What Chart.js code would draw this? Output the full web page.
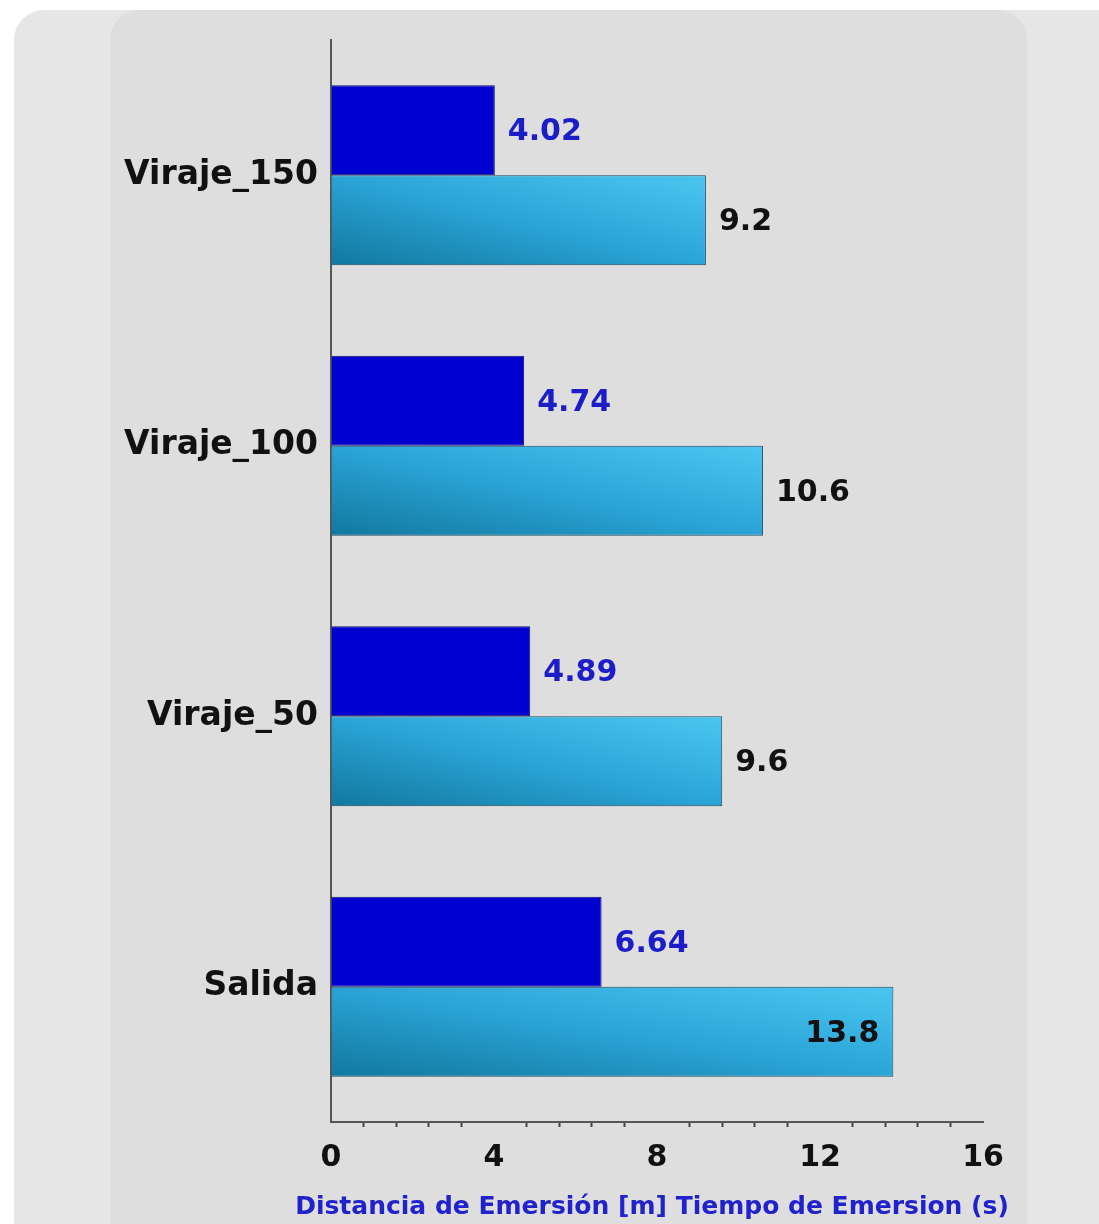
<!DOCTYPE html>
<html>
<head>
<meta charset="utf-8">
<script src="https://cdn.jsdelivr.net/npm/chart.js@4.4.1/dist/chart.umd.min.js"></script>
<style>
  html, body { margin: 0; padding: 0; background: #ffffff; }
  body { width: 1099px; height: 1224px; position: relative; overflow: hidden; }
  #outer { position: absolute; left: 14px; top: 10px; width: 1120px; height: 1250px; background: #e6e6e6; border-radius: 30px; }
  #inner { position: absolute; left: 110px; top: 10px; width: 917px; height: 1250px; background: #dedede; border-radius: 30px; }
  #wrap { position: absolute; left: 0; top: 0; width: 1099px; height: 1224px; }
</style>
</head>
<body>
<div id="outer"></div>
<div id="inner"></div>
<div id="wrap"><canvas id="c" width="1099" height="1224"></canvas></div>
<script>
const categories = ['Viraje_150', 'Viraje_100', 'Viraje_50', 'Salida'];
const distancia = [4.02, 4.74, 4.89, 6.64];
const tiempo = [9.2, 10.6, 9.6, 13.8];
const seriesNames = ['Distancia de Emersión [m]', 'Tiempo de Emersion (s)'];
const axisTitle = 'Distancia de Emersión [m] Tiempo de Emersion (s)';
const xMin = 0, xMax = 16, xStep = 0.8, labelEvery = 4;

const FONT = "'DejaVu Sans', sans-serif";
const CAT_PCT = 0.666;

function lightGradient(ctx) {
  const chart = ctx.chart;
  const xs = chart.scales.x, ys = chart.scales.y;
  if (!chart.chartArea || !xs || !ys || ctx.dataIndex === undefined) return '#2aa4d6';
  const v = ctx.raw;
  const x0 = xs.getPixelForValue(0), x1 = xs.getPixelForValue(v);
  const yc = ys.getPixelForValue(ctx.dataIndex);
  const h = ys.height / categories.length * CAT_PCT / 2;
  const w = x1 - x0;
  const t = 2 * w * h / (h * h + w * w);
  const bx = x0, by = yc + h;
  const g = chart.ctx.createLinearGradient(bx, by, bx + h * t, by - w * t);
  g.addColorStop(0, '#12789f');
  g.addColorStop(0.5, '#2aa4d6');
  g.addColorStop(1, '#4cc6f0');
  return g;
}

const valueLabels = {
  id: 'valueLabels',
  afterDatasetsDraw(chart) {
    const ctx = chart.ctx;
    ctx.save();
    ctx.font = "bold 30px " + FONT;
    ctx.textBaseline = 'middle';
    chart.data.datasets.forEach((ds, di) => {
      const meta = chart.getDatasetMeta(di);
      meta.data.forEach((bar, i) => {
        const v = ds.data[i];
        const txt = String(v);
        ctx.fillStyle = di === 0 ? '#1c1cc8' : '#111111';
        if (di === 1 && v > 12) {
          ctx.textAlign = 'right';
          ctx.fillText(txt, bar.x - 14, bar.y + 2);
        } else {
          ctx.textAlign = 'left';
          ctx.fillText(txt, bar.x + 13, bar.y + 2);
        }
      });
    });
    ctx.restore();
  }
};

const axisTitlePlugin = {
  id: 'axisTitlePlugin',
  afterDraw(chart) {
    const ctx = chart.ctx;
    const a = chart.chartArea;
    ctx.save();
    ctx.font = "bold 25px " + FONT;
    ctx.fillStyle = '#2222cc';
    ctx.textAlign = 'center';
    ctx.textBaseline = 'middle';
    ctx.fillText(axisTitle, (a.left + a.right) / 2 - 5, a.bottom + 85);
    ctx.restore();
  }
};

function isMajor(v) {
  return Math.abs(v / labelEvery - Math.round(v / labelEvery)) < 1e-6;
}

new Chart(document.getElementById('c'), {
  type: 'bar',
  data: {
    labels: categories,
    datasets: [
      {
        label: seriesNames[0],
        data: distancia,
        backgroundColor: '#0000d0',
        borderColor: '#10106a',
        borderWidth: 1,
        barPercentage: 1,
        categoryPercentage: CAT_PCT
      },
      {
        label: seriesNames[1],
        data: tiempo,
        backgroundColor: lightGradient,
        borderColor: '#1c4a62',
        borderWidth: 1,
        barPercentage: 1,
        categoryPercentage: CAT_PCT
      }
    ]
  },
  options: {
    indexAxis: 'y',
    responsive: false,
    animation: false,
    layout: { padding: { top: 40, right: 116, left: 0, bottom: 0 } },
    plugins: {
      legend: { display: false },
      tooltip: { enabled: false }
    },
    scales: {
      x: {
        type: 'linear',
        min: xMin, max: xMax,
        afterFit(scale) { scale.height = 102; },
        ticks: {
          stepSize: xStep,
          autoSkip: false,
          maxRotation: 0,
          padding: 13,
          color: '#111111',
          font: { family: FONT, size: 30, weight: 'bold' },
          callback(v) { return isMajor(v) ? String(Math.round(v)) : ''; }
        },
        grid: {
          drawOnChartArea: false,
          drawTicks: true,
          tickLength: 5,
          tickColor(ctx) { return (ctx.tick && isMajor(ctx.tick.value)) ? 'rgba(0,0,0,0)' : '#444444'; },
          tickWidth: 2
        },
        border: { display: true, color: '#555555', width: 2 },
        title: { display: false }
      },
      y: {
        type: 'category',
        afterFit(scale) { scale.width = 331; },
        ticks: {
          padding: 13,
          color: '#111111',
          font: { family: FONT, size: 33, weight: 'bold' }
        },
        grid: { display: false, drawTicks: false },
        border: { display: true, color: '#555555', width: 2 }
      }
    }
  },
  plugins: [valueLabels, axisTitlePlugin]
});
</script>
</body>
</html>
